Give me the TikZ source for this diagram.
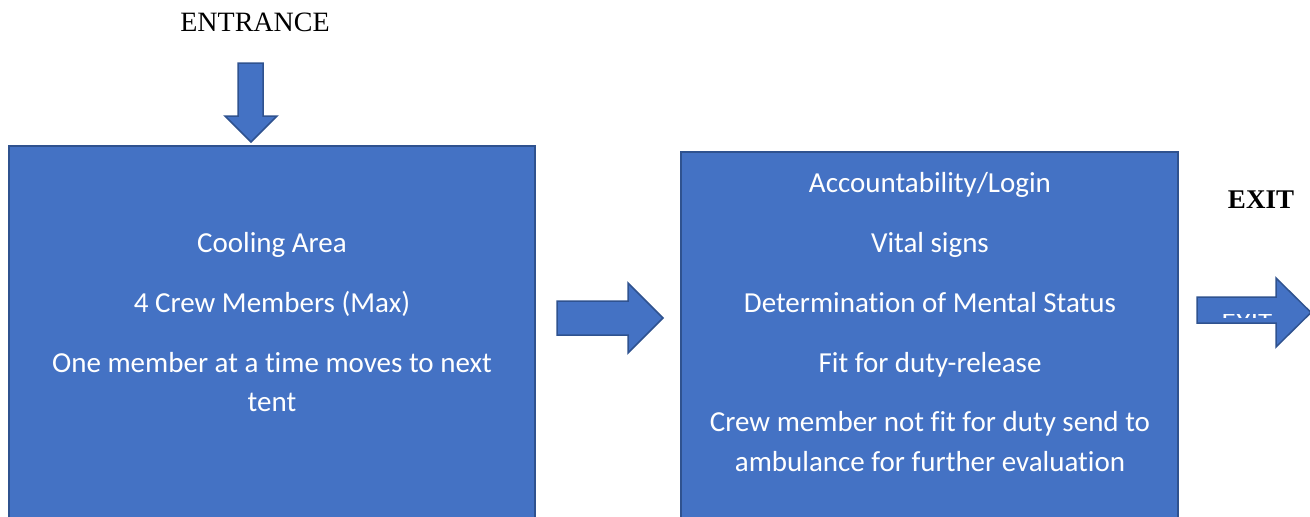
\documentclass[tikz,border=0pt]{standalone}
\usepackage{fontspec}
\setmainfont{Carlito}[Ligatures=NoCommon]
\newfontfamily\hdfont{Liberation Serif}
\definecolor{boxfill}{HTML}{4472C4}
\definecolor{boxline}{HTML}{2F528F}
\begin{document}
\begin{tikzpicture}[x=1pt,y=-1pt,
  tentbox/.style={fill=boxfill,draw=boxline,line width=2.2pt},
  blockarrow/.style={fill=boxfill,draw=boxline,line width=1.5pt,line join=miter},
  boxtext/.style={text=white,font=\fontsize{29}{39}\selectfont,anchor=base,inner sep=0pt},
  headtext/.style={text=black,anchor=base,inner sep=0pt}]
\clip (0,0) rectangle (1310,517);
\fill[white] (0,0) rectangle (1310,517);
% boxes
\draw[tentbox] (9,146) rectangle (535,560);
\draw[tentbox] (681,152) rectangle (1178,560);
% headings
\node[headtext,font=\hdfont\fontsize{28}{30}\selectfont] (entrance) at (255,31) {ENTRANCE};
\node[headtext,font=\hdfont\bfseries\fontsize{27}{30}\selectfont] (exit) at (1261,208) {EXIT};
% entrance arrow
\draw[blockarrow] (238,63) -- (263,63) -- (263,116) -- (277,116) -- (251,142) -- (225,116) -- (238,116) -- cycle;
% middle arrow
\draw[blockarrow] (557,301) -- (628,301) -- (628,283) -- (663,318) -- (628,353) -- (628,335) -- (557,335) -- cycle;
% exit arrow
\draw[blockarrow] (1197,297) -- (1276,297) -- (1276,278) -- (1311,312.5) -- (1276,347) -- (1276,323) -- (1197,323) -- cycle;
\begin{scope}
\clip (1215,314) rectangle (1280,317);
\node[boxtext,font=\fontsize{29}{39}\selectfont] (exittxt) at (1247,332.5) {EXIT};
\end{scope}
% left box text
\node[boxtext] (l1) at (272,252) {Cooling Area};
\node[boxtext] (l2) at (272,312) {4 Crew Members (Max)};
\node[boxtext] (l3) at (272,372) {One member at a time moves to next};
\node[boxtext] (l4) at (272,411) {tent};
% right box text
\node[boxtext] (r1) at (930,192) {Accountability/Login};
\node[boxtext] (r2) at (930,252) {Vital signs};
\node[boxtext] (r3) at (930,312) {Determination of Mental Status};
\node[boxtext] (r4) at (930,372) {Fit for duty-release};
\node[boxtext] (r5) at (930,431) {Crew member not fit for duty send to};
\node[boxtext] (r6) at (930,471) {ambulance for further evaluation};
\end{tikzpicture}
\end{document}
